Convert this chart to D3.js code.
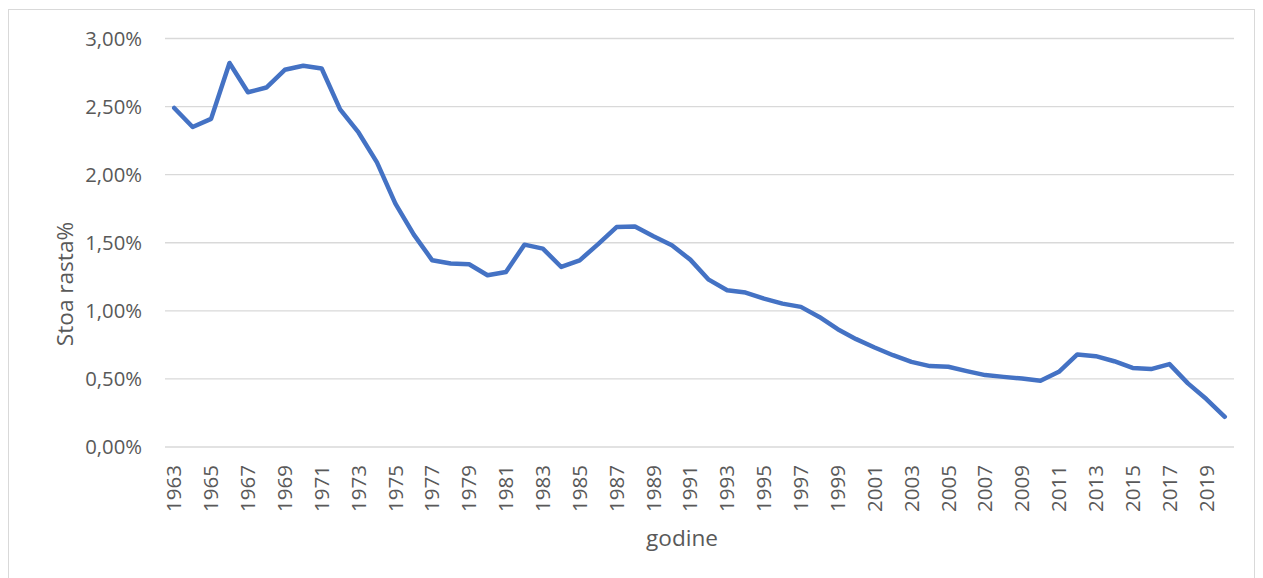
<!DOCTYPE html>
<html lang="hr">
<head>
<meta charset="UTF-8">
<title>Stoa rasta%</title>
<script src="https://cdn.jsdelivr.net/npm/d3@7"></script>
<style>
    body { margin: 0; background: #fff; }
    text { font-family: "Open Sans", sans-serif; fill: #595959; }
    .grid line { stroke: #d9d9d9; stroke-width: 1.3px; }
</style>
</head>
<body>
<svg id="chart" width="1263" height="578"></svg>
<script>
// years 1963..2020
var years = [];
for (var y = 1963; y <= 2020; y++) years.push(y);

// growth rate, in %
var rates = [
    2.49, 2.35, 2.41, 2.82, 2.605, 2.64, 2.77, 2.80, 2.78, 2.48,
    2.31, 2.09, 1.787, 1.56, 1.371, 1.347, 1.342, 1.261, 1.285, 1.486,
    1.457, 1.322, 1.371, 1.49, 1.615, 1.62, 1.547, 1.481, 1.376, 1.229,
    1.151, 1.134, 1.09, 1.053, 1.029, 0.955, 0.865, 0.792, 0.731, 0.674,
    0.625, 0.594, 0.589, 0.557, 0.528, 0.515, 0.503, 0.486, 0.552, 0.68,
    0.667, 0.63, 0.581, 0.572, 0.609, 0.467, 0.352, 0.222
];

var yTicks = [0, 0.5, 1, 1.5, 2, 2.5, 3];
var xTitle = "godine";
var yTitle = "Stoa rasta%";

var svg = d3.select("#chart");

// chart area border
svg.append("rect")
    .attr("x", 8.5).attr("y", 9.5)
    .attr("width", 1246).attr("height", 580)
    .attr("fill", "none")
    .attr("stroke", "#d9d9d9");

var plotLeft = 165, plotRight = 1234, plotTop = 38.5, plotBottom = 447;

var x = d3.scaleBand()
    .domain(years)
    .range([plotLeft, plotRight]);

var yScale = d3.scaleLinear()
    .domain([0, 3])
    .range([plotBottom, plotTop]);

// gridlines
svg.append("g")
    .attr("class", "grid")
    .selectAll("line")
    .data(yTicks)
    .enter().append("line")
    .attr("x1", plotLeft).attr("x2", plotRight)
    .attr("y1", function(d) { return yScale(d); })
    .attr("y2", function(d) { return yScale(d); });

// y axis labels
var fmt = function(d) { return d.toFixed(2).replace(".", ",") + "%"; };
var yAxis = svg.append("g")
    .attr("transform", "translate(" + (plotLeft - 23) + ",0)")
    .call(d3.axisLeft(yScale).tickValues(yTicks).tickFormat(fmt).tickSize(0).tickPadding(0));
yAxis.select(".domain").remove();
yAxis.selectAll("text")
    .style("font-size", "20.3px")
    .style("font-family", "'Open Sans', sans-serif")
    .attr("fill", "#595959");

// x axis labels, every other year
var xAxis = svg.append("g")
    .attr("transform", "translate(0," + plotBottom + ")")
    .call(d3.axisBottom(x)
        .tickValues(years.filter(function(d, i) { return i % 2 === 0; }))
        .tickSize(0));
xAxis.select(".domain").remove();
xAxis.selectAll("text")
    .style("font-size", "20.5px")
    .style("font-family", "'Open Sans', sans-serif")
    .attr("fill", "#595959")
    .attr("text-anchor", "end")
    .attr("dy", "0.35em")
    .attr("transform", "translate(0,18) rotate(-90)")
    .attr("x", 0)
    .attr("y", 0);

// axis titles
svg.append("text")
    .attr("x", 682).attr("y", 546)
    .attr("text-anchor", "middle")
    .style("font-size", "22.6px")
    .text(xTitle);

svg.append("text")
    .attr("transform", "translate(73,284) rotate(-90)")
    .attr("text-anchor", "middle")
    .style("font-size", "22.6px")
    .text(yTitle);

// the line
var line = d3.line()
    .x(function(d, i) { return x(years[i]) + x.bandwidth() / 2; })
    .y(function(d) { return yScale(d); });

svg.append("path")
    .datum(rates)
    .attr("fill", "none")
    .attr("stroke", "#4472c4")
    .attr("stroke-width", 4.5)
    .attr("stroke-linejoin", "round")
    .attr("stroke-linecap", "round")
    .attr("d", line);
</script>
</body>
</html>
